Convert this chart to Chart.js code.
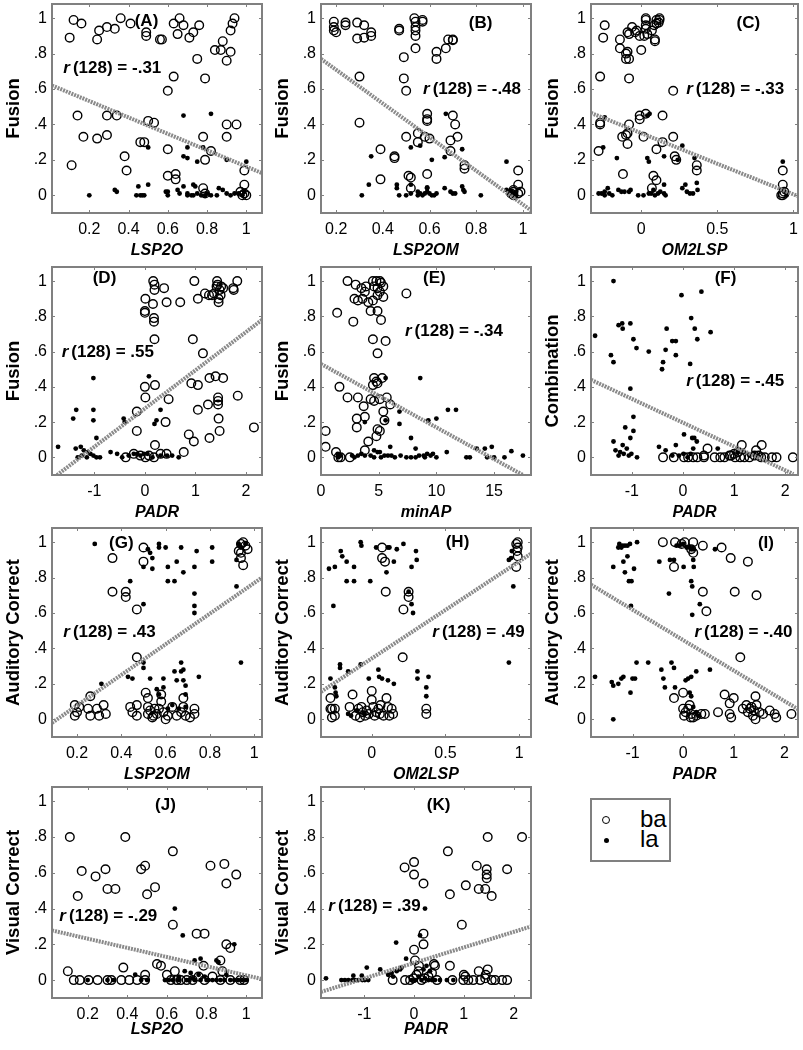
<!DOCTYPE html>
<html>
<head>
<meta charset="utf-8">
<script src="https://cdn.jsdelivr.net/npm/chart.js@4.4.1/dist/chart.umd.min.js"></script>
<style>
  body { margin: 0; background: #fff; }
  #wrap { position: relative; width: 803px; height: 1050px; overflow: hidden; font-family: "Liberation Sans", Arial, sans-serif; }
  #wrap canvas { position: absolute; }
  .legend { position: absolute; left: 590px; top: 798px; width: 77px; height: 60px; border: 2px solid #808080; }
  .legend .ring { position: absolute; left: 10px; top: 16px; width: 6px; height: 6px; border: 1.3px solid #000; border-radius: 50%; }
  .legend .dot { position: absolute; left: 11.5px; top: 38px; width: 5px; height: 5px; background: #000; border-radius: 50%; }
  .legend span { position: absolute; left: 48px; font-size: 24px; line-height: 24px; color: #000; }
</style>
</head>
<body>
<div id="wrap">
  <div class="legend">
    <div class="ring"></div><span style="top:7px">ba</span>
    <div class="dot"></div><span style="top:27px">la</span>
  </div>
</div>
<script>
// tick values
const yTickVals = [0, 0.2, 0.4, 0.6, 0.8, 1];
const yTickText = ['0', '.2', '.4', '.6', '.8', '1'];
const lspTicks = [0.2, 0.4, 0.6, 0.8, 1];
const omTicks = [0, 0.5, 1];
const padrTicks = [-1, 0, 1, 2];
const minApTicks = [0, 5, 10, 15];

// (A) LSP2O vs Fusion
const aBa = [[0.10,0.89],[0.12,0.99],[0.16,0.97],[0.24,0.88],[0.25,0.93],[0.29,0.95],[0.33,0.94],[0.36,1.0],[0.41,0.97],[0.49,0.92],[0.49,0.90],[0.56,0.88],[0.57,0.88],[0.63,0.97],[0.65,0.91],[0.66,1.0],[0.68,0.96],[0.71,0.89],[0.73,0.92],[0.76,0.96],[0.75,0.77],[0.84,0.82],[0.87,0.82],[0.88,0.87],[0.90,0.76],[0.92,0.81],[0.92,0.93],[0.93,0.97],[0.94,1.0],[0.63,0.67],[0.60,0.59],[0.79,0.66],[0.14,0.45],[0.29,0.45],[0.34,0.45],[0.50,0.42],[0.53,0.41],[0.17,0.33],[0.24,0.32],[0.29,0.34],[0.46,0.30],[0.48,0.30],[0.11,0.17],[0.38,0.22],[0.39,0.14],[0.60,0.26],[0.78,0.33],[0.90,0.40],[0.95,0.40],[0.90,0.33],[0.82,0.25],[0.79,0.20],[0.60,0.11],[0.64,0.12],[0.64,0.09],[0.99,0.14],[0.99,0.06],[0.78,0.04],[0.79,0.01],[0.97,0.02],[0.98,0.0],[0.99,0.01],[1.0,0.0]];
const aLa = [[0.20,0.0],[0.33,0.03],[0.34,0.02],[0.45,0.05],[0.50,0.06],[0.44,0.0],[0.46,0.0],[0.47,0.0],[0.48,0.0],[0.59,0.02],[0.60,0.02],[0.50,0.27],[0.68,0.45],[0.82,0.46],[0.70,0.27],[0.68,0.22],[0.70,0.21],[0.75,0.19],[0.78,0.27],[0.90,0.20],[1.0,0.19],[0.65,0.03],[0.66,0.01],[0.68,0.05],[0.70,0.01],[0.72,0.0],[0.73,0.0],[0.75,0.01],[0.77,0.0],[0.79,0.0],[0.80,0.01],[0.82,0.0],[0.73,0.06],[0.74,0.05],[0.86,0.04],[0.88,0.03],[0.90,0.01],[0.92,0.0],[0.94,0.01],[0.96,0.01],[0.98,0.0],[0.99,0.02],[0.70,0.0],[0.60,0.0],[0.85,0.0]];
const aFit = [[0.01,0.62],[1.08,0.125]];

// (B) LSP2OM vs Fusion
const bBa = [[0.19,0.98],[0.19,0.95],[0.19,0.93],[0.20,0.92],[0.24,0.975],[0.24,0.96],[0.29,0.975],[0.32,0.96],[0.29,0.885],[0.32,0.89],[0.35,0.92],[0.35,0.90],[0.47,0.94],[0.47,0.93],[0.535,1.0],[0.54,0.98],[0.54,0.95],[0.54,0.93],[0.57,0.99],[0.57,0.98],[0.54,0.90],[0.54,0.83],[0.49,0.78],[0.49,0.66],[0.50,0.59],[0.30,0.67],[0.30,0.41],[0.63,0.81],[0.63,0.77],[0.67,0.83],[0.68,0.88],[0.70,0.88],[0.70,0.875],[0.59,0.46],[0.59,0.43],[0.59,0.42],[0.70,0.45],[0.71,0.40],[0.55,0.35],[0.55,0.30],[0.58,0.33],[0.60,0.32],[0.69,0.31],[0.69,0.25],[0.72,0.33],[0.50,0.33],[0.39,0.26],[0.45,0.22],[0.45,0.21],[0.75,0.17],[0.75,0.15],[0.51,0.11],[0.52,0.10],[0.59,0.12],[0.39,0.09],[0.52,0.04],[0.98,0.14],[0.98,0.06],[0.99,0.02],[0.98,0.01],[0.96,0.0],[0.96,0.02],[0.95,0.01],[0.96,0.03]];
const bLa = [[0.31,0.0],[0.34,0.06],[0.35,0.22],[0.46,0.06],[0.46,0.04],[0.47,0.0],[0.52,0.27],[0.52,0.06],[0.52,0.01],[0.56,0.28],[0.55,0.02],[0.56,0.01],[0.57,0.0],[0.58,0.01],[0.59,0.02],[0.60,0.01],[0.61,0.0],[0.62,0.0],[0.63,0.01],[0.59,0.045],[0.59,0.04],[0.61,0.20],[0.67,0.46],[0.665,0.215],[0.665,0.04],[0.69,0.02],[0.70,0.01],[0.71,0.01],[0.74,0.26],[0.74,0.05],[0.745,0.03],[0.75,0.02],[0.82,0.0],[0.93,0.19],[0.93,0.03],[0.94,0.01],[0.95,0.02],[0.96,0.0],[0.965,0.01],[0.97,0.0],[0.55,0.0],[0.50,0.0]];
const bFit = [[0.135,0.77],[1.035,-0.085]];

// (C) OM2LSP vs Fusion
const cBa = [[-0.24,0.96],[-0.25,0.89],[-0.27,0.67],[-0.14,0.88],[-0.14,0.83],[-0.10,0.77],[-0.09,0.81],[-0.08,0.77],[-0.10,0.80],[-0.08,0.66],[-0.09,0.92],[-0.08,0.91],[-0.06,0.95],[-0.04,0.92],[-0.03,0.93],[-0.01,0.90],[0.03,1.0],[0.03,0.96],[0.03,0.94],[0.0,0.82],[0.02,0.90],[0.04,0.91],[0.07,0.93],[0.085,0.96],[0.10,0.97],[0.10,0.99],[0.12,0.99],[0.115,0.975],[0.12,1.0],[0.09,0.88],[0.09,0.87],[0.03,0.99],[0.21,0.59],[-0.27,0.41],[-0.27,0.40],[-0.28,0.25],[-0.08,0.40],[-0.125,0.33],[-0.10,0.34],[-0.09,0.35],[-0.09,0.29],[-0.01,0.45],[-0.01,0.43],[0.03,0.46],[0.015,0.33],[0.10,0.26],[0.14,0.45],[0.14,0.30],[0.21,0.33],[0.22,0.22],[0.23,0.20],[0.365,0.17],[0.365,0.14],[-0.12,0.12],[0.08,0.11],[0.10,0.085],[0.07,0.04],[0.93,0.14],[0.93,0.06],[0.93,0.01],[0.93,0.0],[0.92,0.0],[0.94,0.02]];
const cLa = [[-0.24,0.44],[-0.25,0.27],[-0.16,0.21],[-0.22,0.04],[-0.24,0.02],[-0.28,0.01],[-0.26,0.01],[-0.24,0.0],[-0.21,0.01],[-0.19,0.0],[-0.15,0.03],[-0.13,0.02],[-0.11,0.02],[-0.08,0.02],[-0.07,0.03],[-0.02,0.0],[0.015,0.0],[0.05,0.01],[0.065,0.01],[0.04,0.21],[0.05,0.19],[0.04,0.45],[0.055,0.46],[0.08,0.03],[0.09,0.0],[0.11,0.01],[0.125,0.02],[0.15,0.01],[0.16,0.0],[0.15,0.06],[0.15,0.22],[0.24,0.20],[0.27,0.28],[0.27,0.04],[0.29,0.06],[0.30,0.02],[0.32,0.01],[0.34,0.01],[0.35,0.21],[0.365,0.07],[0.37,0.03],[0.93,0.19],[0.92,0.03],[0.94,0.02],[0.955,0.0]];
const cFit = [[-0.33,0.465],[1.03,-0.005]];

// (D) PADR vs Fusion
const dBa = [[0.165,1.0],[0.19,0.98],[0.19,0.95],[0.38,0.96],[0.01,0.90],[0.16,0.87],[0.43,0.88],[0.70,0.88],[0.0,0.83],[0.0,0.82],[0.18,0.79],[0.18,0.77],[0.19,0.67],[0.98,1.0],[1.05,0.90],[1.19,0.93],[1.27,0.92],[1.33,0.92],[1.37,0.93],[1.43,1.0],[1.44,0.98],[1.42,0.97],[1.48,0.95],[1.50,0.92],[1.46,0.90],[1.46,0.88],[1.51,0.97],[1.55,0.96],[1.75,0.96],[1.76,0.95],[1.83,1.0],[0.95,0.67],[1.15,0.59],[0.92,0.42],[1.05,0.41],[1.28,0.45],[1.40,0.46],[1.55,0.45],[1.45,0.34],[1.45,0.32],[1.45,0.30],[1.84,0.35],[1.25,0.30],[1.05,0.27],[1.46,0.22],[1.48,0.15],[1.28,0.11],[2.16,0.17],[0.87,0.13],[0.97,0.09],[0.77,0.03],[0.0,0.40],[0.20,0.41],[0.01,0.34],[0.47,0.33],[-0.16,0.26],[-0.16,0.15],[0.41,0.20],[0.20,0.07],[-0.38,0.0],[-0.22,0.02],[-0.09,0.01],[0.01,0.0],[0.08,0.01],[0.18,0.0],[0.31,0.02],[0.43,0.02]];
const dLa = [[-1.72,0.06],[-1.42,0.22],[-1.36,0.27],[-1.02,0.45],[-1.02,0.27],[-1.02,0.21],[-0.96,0.11],[-1.37,0.05],[-1.27,0.06],[-1.21,0.04],[-1.13,0.03],[-1.08,0.02],[-1.02,0.01],[-0.96,0.0],[-0.89,0.0],[-1.33,0.0],[-1.15,0.0],[-0.68,0.03],[-0.42,0.22],[-0.40,0.20],[-0.45,0.0],[-0.32,0.01],[-0.22,0.02],[-0.15,0.02],[-0.09,0.01],[-0.02,0.02],[0.05,0.02],[0.15,0.0],[0.08,0.46],[0.19,0.19],[0.23,0.21],[0.31,0.27],[0.31,0.01],[0.44,0.01],[0.54,0.01],[0.67,0.0],[-1.25,0.01],[-0.55,0.02]];
const dFit = [[-1.74,-0.1],[2.32,0.78]];

// (E) minAP vs Fusion
const eBa = [[2.3,1.0],[3.0,0.98],[3.5,0.96],[3.9,0.97],[3.8,0.94],[4.5,1.0],[4.8,1.0],[5.1,1.0],[5.2,0.99],[4.6,0.97],[4.9,0.96],[5.1,0.94],[5.4,0.97],[2.9,0.90],[3.2,0.89],[3.6,0.90],[4.1,0.88],[4.5,0.89],[4.9,0.92],[5.4,0.91],[4.3,0.83],[4.9,0.83],[5.2,0.78],[1.4,0.82],[2.8,0.77],[7.4,0.93],[4.5,0.67],[4.9,0.59],[5.6,0.66],[4.6,0.45],[4.8,0.43],[4.9,0.42],[5.3,0.45],[4.5,0.41],[1.6,0.40],[2.3,0.34],[3.2,0.34],[4.3,0.33],[4.6,0.32],[5.1,0.33],[5.7,0.34],[6.0,0.30],[3.7,0.29],[3.8,0.23],[3.1,0.22],[3.1,0.17],[5.4,0.26],[5.5,0.21],[4.9,0.16],[5.1,0.15],[4.8,0.12],[4.1,0.09],[3.8,0.04],[2.5,0.0],[0.4,0.15],[0.4,0.06],[1.3,0.03],[1.5,0.0],[1.7,0.0]];
const eLa = [[1.45,0.02],[1.5,0.0],[1.7,0.01],[2.7,0.01],[2.9,0.0],[3.2,0.01],[3.5,0.02],[3.8,0.01],[3.8,0.20],[4.6,0.04],[4.9,0.03],[5.1,0.03],[4.3,0.01],[4.6,0.0],[5.2,0.0],[5.5,0.01],[5.8,0.01],[6.1,0.01],[6.4,0.0],[5.6,0.45],[5.6,0.21],[6.0,0.06],[6.8,0.26],[6.8,0.19],[6.9,0.01],[7.4,0.0],[7.8,0.0],[8.2,0.0],[8.5,0.01],[8.9,0.01],[9.2,0.02],[9.5,0.01],[10.0,0.0],[7.8,0.11],[8.2,0.05],[8.6,0.45],[9.3,0.21],[10.0,0.22],[10.9,0.03],[11.0,0.27],[11.7,0.27],[12.6,0.0],[12.9,0.0],[13.5,0.05],[14.2,0.05],[14.8,0.06],[14.4,0.0],[15.0,0.0],[15.9,0.0],[16.5,0.035],[17.5,0.01],[9.0,0.0],[9.7,0.02]];
const eFit = [[0,0.53],[17.5,-0.1]];

// (F) PADR vs Combination
const fBa = [[-0.39,0.0],[-0.18,0.0],[0.02,0.0],[0.2,0.0],[0.28,0.0],[0.41,0.01],[0.48,0.05],[0.41,0.0],[0.73,0.0],[0.81,0.0],[0.91,0.01],[1.0,0.02],[1.02,0.0],[1.12,0.0],[1.2,0.0],[1.3,0.0],[1.4,0.01],[1.48,0.01],[1.53,0.0],[1.6,0.0],[1.74,0.0],[1.83,0.0],[2.15,0.0],[1.15,0.07],[1.54,0.07],[1.43,0.04],[0.94,0.01],[1.08,0.03],[0.62,0.0],[0.1,0.0]];
const fLa = [[-1.72,0.69],[-1.36,1.0],[-1.41,0.58],[-1.36,0.54],[-1.26,0.75],[-1.19,0.76],[-1.18,0.73],[-1.03,0.76],[-0.97,0.67],[-0.91,0.62],[-0.67,0.60],[-0.32,0.73],[-0.34,0.61],[-0.39,0.54],[-0.41,0.50],[-0.21,0.66],[-0.14,0.66],[-0.14,0.58],[-0.03,0.92],[0.36,0.94],[0.16,0.79],[0.23,0.73],[0.28,0.67],[0.54,0.71],[0.14,0.53],[-1.03,0.39],[-0.97,0.23],[-0.97,0.15],[-1.13,0.17],[-1.03,0.11],[-1.36,0.09],[-1.18,0.07],[-1.1,0.05],[-1.32,0.04],[-1.26,0.01],[-1.16,0.02],[-1.06,0.01],[-1.01,0.02],[-0.9,0.0],[-1.23,0.03],[-0.47,0.06],[-0.34,0.04],[-0.21,0.01],[-0.14,0.07],[0.02,0.13],[-0.08,0.01],[0.01,0.02],[0.09,0.0],[0.15,0.02],[0.2,0.05],[0.18,0.11],[0.22,0.11],[0.27,0.09],[0.68,0.05],[1.07,0.03],[1.19,0.03],[1.30,0.01],[1.39,0.02],[1.46,0.01]];
const fFit = [[-1.8,0.44],[2.16,-0.095]];

// (G) LSP2OM vs Auditory Correct
const gBa = [[0.19,0.08],[0.19,0.02],[0.20,0.04],[0.21,0.07],[0.26,0.13],[0.25,0.06],[0.26,0.02],[0.29,0.06],[0.30,0.02],[0.32,0.08],[0.33,0.03],[0.36,0.91],[0.36,0.72],[0.42,0.72],[0.42,0.69],[0.47,0.62],[0.50,0.97],[0.50,0.89],[0.47,0.35],[0.44,0.07],[0.45,0.04],[0.47,0.08],[0.47,0.02],[0.51,0.15],[0.52,0.12],[0.52,0.07],[0.52,0.03],[0.53,0.05],[0.54,0.01],[0.55,0.06],[0.58,0.14],[0.58,0.10],[0.57,0.06],[0.56,0.03],[0.59,0.04],[0.61,0.02],[0.63,0.07],[0.65,0.02],[0.68,0.07],[0.67,0.04],[0.68,0.12],[0.69,0.02],[0.71,0.01],[0.73,0.06],[0.73,0.03],[0.93,0.95],[0.94,0.99],[0.95,1.0],[0.96,0.98],[0.97,0.96],[0.94,0.94],[0.95,0.87],[0.94,0.91],[0.545,0.02],[0.60,0.0]];
const gLa = [[0.28,0.99],[0.31,0.20],[0.44,0.78],[0.43,0.24],[0.45,0.23],[0.52,0.96],[0.53,0.94],[0.54,0.91],[0.54,0.85],[0.50,0.86],[0.50,0.65],[0.50,0.32],[0.50,0.29],[0.53,0.23],[0.57,0.99],[0.57,0.97],[0.60,0.97],[0.61,0.86],[0.61,0.78],[0.65,0.89],[0.64,0.78],[0.67,0.97],[0.68,0.83],[0.73,0.86],[0.74,0.95],[0.73,0.71],[0.73,0.64],[0.73,0.60],[0.81,0.97],[0.81,0.89],[0.92,0.90],[0.92,0.75],[0.94,0.32],[0.93,0.99],[0.94,0.97],[0.56,0.17],[0.57,0.14],[0.59,0.18],[0.59,0.23],[0.64,0.27],[0.65,0.22],[0.67,0.32],[0.67,0.27],[0.68,0.28],[0.68,0.22],[0.69,0.19],[0.69,0.14],[0.75,0.24],[0.61,0.06],[0.63,0.08],[0.66,0.06],[0.69,0.07],[0.96,0.99]];
const gFit = [[0.087,-0.02],[1.035,0.80]];

// (H) OM2LSP vs Auditory Correct
const hBa = [[-0.28,0.12],[-0.27,0.06],[-0.25,0.02],[-0.27,0.01],[-0.25,0.06],[-0.28,0.06],[-0.13,0.14],[-0.15,0.07],[-0.11,0.02],[-0.09,0.06],[-0.07,0.07],[-0.045,0.02],[-0.035,0.05],[-0.06,0.04],[-0.08,0.01],[0.0,0.16],[0.0,0.11],[0.01,0.07],[0.02,0.02],[0.045,0.06],[0.055,0.03],[0.06,0.08],[0.08,0.02],[0.10,0.12],[0.11,0.07],[0.12,0.02],[0.135,0.06],[0.145,0.03],[0.07,0.97],[0.07,0.91],[0.09,0.89],[0.095,0.72],[0.21,0.35],[0.215,0.62],[0.25,0.72],[0.25,0.69],[0.37,0.06],[0.37,0.03],[0.98,0.99],[0.99,0.97],[0.985,0.95],[0.99,0.92],[0.98,0.86],[0.99,1.0],[0.03,0.04],[-0.02,0.03]];
const hLa = [[-0.29,0.85],[-0.25,0.86],[-0.21,0.95],[-0.20,0.92],[-0.26,0.64],[-0.17,0.89],[-0.17,0.78],[-0.12,0.78],[-0.12,0.86],[-0.075,1.0],[-0.07,0.98],[-0.01,0.78],[0.03,0.97],[0.11,0.97],[0.12,0.97],[0.10,0.83],[0.15,0.89],[0.17,0.96],[0.215,0.99],[0.25,0.72],[0.27,0.86],[0.27,0.65],[0.28,0.60],[0.30,0.95],[0.305,0.90],[-0.28,0.23],[-0.25,0.18],[-0.245,0.15],[-0.24,0.13],[-0.215,0.31],[-0.215,0.29],[-0.16,0.27],[-0.075,0.31],[-0.02,0.23],[0.045,0.28],[0.05,0.24],[0.07,0.23],[0.11,0.22],[0.15,0.20],[0.31,0.27],[0.31,0.23],[0.37,0.18],[0.37,0.13],[0.385,0.24],[-0.16,0.03],[-0.14,0.02],[-0.10,0.05],[-0.05,0.03],[0.93,0.32],[0.96,0.75],[0.945,0.91],[0.95,0.95],[0.93,0.90]];
const hFit = [[-0.344,0.155],[1.08,0.935]];

// (I) PADR vs Auditory Correct
const iBa = [[-0.40,1.0],[-0.16,1.0],[-0.03,0.99],[0.03,1.0],[0.20,1.0],[0.16,0.96],[-0.18,0.86],[0.20,0.94],[0.39,0.98],[0.76,0.97],[0.94,0.91],[1.28,0.89],[0.39,0.72],[0.46,0.61],[1.02,0.72],[1.45,0.70],[1.13,0.35],[-0.18,0.12],[0.0,0.15],[0.0,0.06],[0.02,0.02],[0.05,0.04],[0.13,0.08],[0.16,0.03],[0.20,0.01],[0.26,0.02],[0.36,0.03],[0.43,0.03],[0.69,0.04],[0.82,0.14],[0.92,0.09],[1.0,0.12],[0.92,0.03],[0.95,0.01],[1.18,0.06],[1.28,0.04],[1.35,0.07],[1.38,0.02],[1.43,0.13],[1.45,0.08],[1.51,0.04],[1.58,0.03],[1.71,0.05],[1.81,0.03],[1.84,0.01],[2.14,0.03],[1.25,0.08],[1.32,0.06],[1.43,0.0],[1.4,0.05],[0.1,0.06],[0.15,0.01]];
const iLa = [[-1.38,0.86],[-1.28,0.97],[-1.26,0.99],[-1.22,0.97],[-1.20,0.98],[-1.15,0.98],[-1.10,0.98],[-1.05,0.99],[-0.91,1.0],[-1.18,0.89],[-1.15,0.83],[-1.10,0.92],[-1.07,0.78],[-1.02,0.78],[-0.97,0.85],[-1.03,0.64],[-1.74,0.24],[-1.41,0.21],[-1.38,0.19],[-1.28,0.20],[-1.22,0.23],[-1.18,0.24],[-1.04,0.15],[-1.0,0.23],[-0.95,0.23],[-0.92,0.32],[-0.69,0.32],[-1.38,0.0],[-0.47,0.89],[-0.28,0.71],[-0.43,0.28],[-0.39,0.23],[-0.36,0.18],[-0.23,0.32],[-0.18,0.29],[-0.26,0.90],[-0.18,0.90],[-0.13,0.98],[-0.07,0.98],[0.0,0.99],[0.07,0.97],[0.01,0.86],[0.13,0.97],[0.16,0.96],[0.2,0.96],[0.2,0.90],[0.21,0.86],[0.16,0.78],[0.18,0.75],[0.33,0.65],[0.18,0.59],[-0.16,0.18],[0.05,0.22],[0.1,0.23],[0.16,0.24],[0.26,0.27],[0.53,0.28],[0.13,0.15],[0.16,0.13],[0.63,0.96],[0.2,0.07],[0.26,0.04],[0.3,0.02]];
const iFit = [[-1.82,0.76],[2.27,0.057]];

// (J) LSP2O vs Visual Correct
const jBa = [[0.11,0.80],[0.10,0.05],[0.15,0.47],[0.17,0.61],[0.13,0.0],[0.16,0.0],[0.205,0.0],[0.25,0.0],[0.30,0.0],[0.32,0.0],[0.37,0.0],[0.41,0.0],[0.45,0.0],[0.49,0.0],[0.24,0.58],[0.29,0.62],[0.30,0.51],[0.34,0.51],[0.39,0.80],[0.38,0.07],[0.47,0.62],[0.49,0.64],[0.50,0.48],[0.54,0.52],[0.49,0.03],[0.55,0.09],[0.57,0.08],[0.63,0.72],[0.63,0.31],[0.60,0.03],[0.62,0.0],[0.64,0.05],[0.65,0.0],[0.67,0.0],[0.70,0.0],[0.73,0.0],[0.76,0.02],[0.79,0.0],[0.83,0.02],[0.87,0.0],[0.92,0.0],[0.97,0.0],[0.99,0.0],[0.75,0.26],[0.79,0.26],[0.785,0.08],[0.82,0.64],[0.87,0.11],[0.89,0.65],[0.90,0.54],[0.90,0.20],[0.95,0.59],[0.92,0.18],[0.88,0.05]];
const jLa = [[0.20,0.0],[0.33,0.0],[0.30,0.0],[0.44,0.03],[0.47,0.0],[0.50,0.0],[0.64,0.40],[0.68,0.25],[0.69,0.05],[0.59,0.0],[0.61,0.0],[0.63,0.0],[0.66,0.0],[0.70,0.0],[0.71,0.0],[0.73,0.01],[0.74,0.0],[0.76,0.03],[0.77,0.0],[0.79,0.02],[0.80,0.0],[0.81,0.0],[0.83,0.0],[0.85,0.0],[0.87,0.0],[0.89,0.0],[0.92,0.0],[0.94,0.0],[0.96,0.0],[0.98,0.0],[1.0,0.0],[0.77,0.12],[0.85,0.11],[0.86,0.10],[0.94,0.20],[0.74,0.11],[0.66,0.02],[0.72,0.04],[0.90,0.03]];
const jFit = [[0.02,0.278],[1.08,0.006]];

// (K) PADR vs Visual Correct
const kBa = [[-0.43,0.0],[-0.19,0.63],[0.0,0.66],[0.0,0.59],[0.19,0.54],[0.0,0.17],[0.02,0.11],[0.19,0.26],[0.19,0.20],[-0.18,0.0],[-0.08,0.0],[-0.01,0.01],[0.05,0.03],[0.09,0.05],[0.15,0.0],[0.21,0.01],[0.29,0.02],[0.36,0.04],[0.42,0.08],[0.46,0.0],[0.72,0.08],[0.77,0.0],[0.99,0.0],[1.03,0.02],[1.09,0.0],[1.19,0.0],[1.30,0.05],[1.33,0.0],[1.43,0.01],[1.48,0.06],[1.56,0.0],[1.63,0.0],[1.77,0.0],[1.87,0.0],[0.68,0.72],[0.72,0.48],[1.04,0.53],[0.96,0.31],[1.26,0.64],[1.30,0.51],[1.43,0.51],[1.46,0.62],[1.46,0.59],[1.46,0.57],[1.48,0.80],[1.56,0.47],[1.87,0.62],[2.17,0.80],[0.1,0.08],[0.4,0.09],[1.44,0.03],[1.0,0.03]];
const kLa = [[-1.77,0.01],[-1.46,0.0],[-1.39,0.0],[-1.32,0.0],[-1.24,0.0],[-1.19,0.0],[-1.12,0.0],[-1.04,0.0],[-0.99,0.0],[-0.92,0.0],[-1.22,0.025],[-1.05,0.025],[-0.95,0.07],[-0.68,0.06],[-0.52,0.03],[-0.45,0.04],[-0.35,0.05],[-0.28,0.06],[-0.25,0.07],[-0.42,0.02],[-0.36,0.21],[-0.16,0.12],[0.22,0.40],[0.12,0.25],[-0.05,0.0],[0.02,0.0],[0.09,0.02],[0.15,0.0],[0.22,0.01],[0.29,0.0],[0.36,0.0],[0.42,0.0],[0.52,0.0],[0.66,0.0],[0.79,0.0],[0.19,0.06],[0.25,0.08],[0.32,0.05]];
const kFit = [[-1.87,-0.066],[2.35,0.30]];

// layout of the grid
const colX = [52, 321, 591], colW = [210, 210, 207];
const rowY = [4, 267, 528, 787], rowH = [209, 208, 209, 211];
const FONT = '"Liberation Sans", Arial, sans-serif';

const panels = [
  {tag:'(A)', c:0, r:0, xt:'LSP2O',  yt:'Fusion', xr:[0.01,1.08],  ticks:lspTicks, ba:aBa, la:aLa, fit:aFit, rv:'-.31', tp:[0.45,0.085], rp:[0.054,0.31]},
  {tag:'(B)', c:1, r:0, xt:'LSP2OM', yt:'Fusion', xr:[0.135,1.035], ticks:lspTicks, ba:bBa, la:bLa, fit:bFit, rv:'-.48', tp:[0.76,0.092], rp:[0.486,0.41]},
  {tag:'(C)', c:2, r:0, xt:'OM2LSP', yt:'Fusion', xr:[-0.33,1.03], ticks:omTicks, ba:cBa, la:cLa, fit:cFit, rv:'-.33', tp:[0.76,0.092], rp:[0.46,0.41]},
  {tag:'(D)', c:0, r:1, xt:'PADR',   yt:'Fusion', xr:[-1.84,2.32], ticks:padrTicks, ba:dBa, la:dLa, fit:dFit, rv:'.55', tp:[0.25,0.054], rp:[0.046,0.41]},
  {tag:'(E)', c:1, r:1, xt:'minAP',  yt:'Fusion', xr:[0,18.2],     ticks:minApTicks, ba:eBa, la:eLa, fit:eFit, rv:'-.34', tp:[0.54,0.054], rp:[0.40,0.31]},
  {tag:'(F)', c:2, r:1, xt:'PADR',   yt:'Combination', xr:[-1.8,2.25], ticks:padrTicks, ba:fBa, la:fLa, fit:fFit, rv:'-.45', tp:[0.65,0.054], rp:[0.46,0.55]},
  {tag:'(G)', c:0, r:2, xt:'LSP2OM', yt:'Auditory Correct', xr:[0.087,1.035], ticks:lspTicks, ba:gBa, la:gLa, fit:gFit, rv:'.43', tp:[0.33,0.073], rp:[0.054,0.50]},
  {tag:'(H)', c:1, r:2, xt:'OM2LSP', yt:'Auditory Correct', xr:[-0.344,1.08], ticks:omTicks, ba:hBa, la:hLa, fit:hFit, rv:'.49', tp:[0.65,0.068], rp:[0.53,0.50]},
  {tag:'(I)', c:2, r:2, xt:'PADR',   yt:'Auditory Correct', xr:[-1.82,2.27], ticks:padrTicks, ba:iBa, la:iLa, fit:iFit, rv:'-.40', tp:[0.845,0.073], rp:[0.50,0.50]},
  {tag:'(J)', c:0, r:3, xt:'LSP2O',  yt:'Visual Correct', xr:[0.02,1.08], ticks:lspTicks, ba:jBa, la:jLa, fit:jFit, rv:'-.29', tp:[0.54,0.085], rp:[0.035,0.615]},
  {tag:'(K)', c:1, r:3, xt:'PADR',   yt:'Visual Correct', xr:[-1.87,2.35], ticks:padrTicks, ba:kBa, la:kLa, fit:kFit, rv:'.39', tp:[0.56,0.085], rp:[0.035,0.567]}
];

const toPts = arr => arr.map(([x, y]) => ({x, y}));

// box, inner tick marks, panel letter and r value
const deco = {
  id: 'deco',
  afterDatasetsDraw(chart, args, o) {
    const {ctx, chartArea: a, scales: {x, y}} = chart;
    ctx.save();
    ctx.strokeStyle = '#808080';
    ctx.lineWidth = 1;
    ctx.beginPath();
    x.ticks.forEach(t => {
      const px = Math.round(x.getPixelForValue(t.value)) + 0.5;
      ctx.moveTo(px, a.bottom); ctx.lineTo(px, a.bottom - 3);
      ctx.moveTo(px, a.top); ctx.lineTo(px, a.top + 3);
    });
    y.ticks.forEach(t => {
      const py = Math.round(y.getPixelForValue(t.value)) + 0.5;
      ctx.moveTo(a.left, py); ctx.lineTo(a.left + 3, py);
      ctx.moveTo(a.right, py); ctx.lineTo(a.right - 3, py);
    });
    ctx.stroke();
    ctx.lineWidth = 2;
    ctx.strokeRect(a.left, a.top, a.width, a.height);

    ctx.fillStyle = '#000';
    ctx.textBaseline = 'middle';
    ctx.textAlign = 'center';
    ctx.font = 'bold 17px ' + FONT;
    ctx.fillText(o.tag, a.left + o.tp[0] * a.width, a.top + o.tp[1] * a.height);

    ctx.textAlign = 'left';
    const rx = a.left + o.rp[0] * a.width, ry = a.top + o.rp[1] * a.height;
    ctx.font = 'italic bold 17px ' + FONT;
    ctx.fillText('r', rx, ry);
    const w = ctx.measureText('r').width;
    ctx.font = 'bold 17px ' + FONT;
    ctx.fillText('(128) = ' + o.rv, rx + w + 3, ry);
    ctx.restore();
  }
};

const noPad = s => { s.paddingTop = 0; s.paddingBottom = 0; s.paddingLeft = 0; s.paddingRight = 0; };

const wrap = document.getElementById('wrap');
const YW = 52, PT = 6, PR = 8, XH = 48;

panels.forEach(p => {
  const cv = document.createElement('canvas');
  const w = YW + colW[p.c] + PR, h = PT + rowH[p.r] + XH;
  cv.width = w; cv.height = h;
  cv.style.left = (colX[p.c] - YW) + 'px';
  cv.style.top = (rowY[p.r] - PT) + 'px';
  cv.style.width = w + 'px'; cv.style.height = h + 'px';
  wrap.appendChild(cv);

  new Chart(cv, {
    type: 'scatter',
    data: {
      datasets: [
        { type: 'line', data: toPts(p.fit), borderColor: '#8a8a8a', borderWidth: 4, borderDash: [2, 1],
          pointRadius: 0, fill: false, tension: 0 },
        { data: toPts(p.ba), pointRadius: 4.3, pointBorderWidth: 1.4, pointBorderColor: '#000',
          pointBackgroundColor: 'rgba(0,0,0,0)' },
        { data: toPts(p.la), pointRadius: 2.4, pointBorderWidth: 0, pointBackgroundColor: '#000',
          pointBorderColor: '#000' }
      ]
    },
    options: {
      responsive: false,
      animation: false,
      devicePixelRatio: 1,
      layout: { padding: { top: PT, right: PR, left: 0, bottom: 0 } },
      plugins: {
        legend: { display: false },
        tooltip: { enabled: false },
        deco: { tag: p.tag, rv: p.rv, tp: p.tp, rp: p.rp }
      },
      scales: {
        x: {
          type: 'linear', min: p.xr[0], max: p.xr[1],
          afterBuildTicks: s => { s.ticks = p.ticks.map(v => ({value: v})); },
          afterFit: s => { s.height = XH; noPad(s); },
          grid: { display: false, drawTicks: false, tickLength: 0 }, border: { display: false },
          ticks: { color: '#000', font: { family: FONT, size: 16 }, padding: 7, maxRotation: 0, autoSkip: false,
                   callback: v => String(v) },
          title: { display: true, text: p.xt, color: '#000',
                   font: { family: FONT, size: 16, weight: 'bold', style: 'italic' },
                   padding: { top: 0, bottom: p.r === 3 ? 7 : 1 } }
        },
        y: {
          type: 'linear', min: -0.1, max: 1.08,
          afterBuildTicks: s => { s.ticks = yTickVals.map(v => ({value: v})); },
          afterFit: s => { s.width = YW; noPad(s); },
          grid: { display: false, drawTicks: false, tickLength: 0 }, border: { display: false },
          ticks: { color: '#000', font: { family: FONT, size: 16 }, padding: 5,
                   callback: (v, i) => yTickText[i] },
          title: { display: true, text: p.yt, color: '#000',
                   font: { family: FONT, size: 18.5, weight: 'bold' }, padding: { top: 3, bottom: 0 } }
        }
      }
    },
    plugins: [deco]
  });
});
</script>
</body>
</html>
